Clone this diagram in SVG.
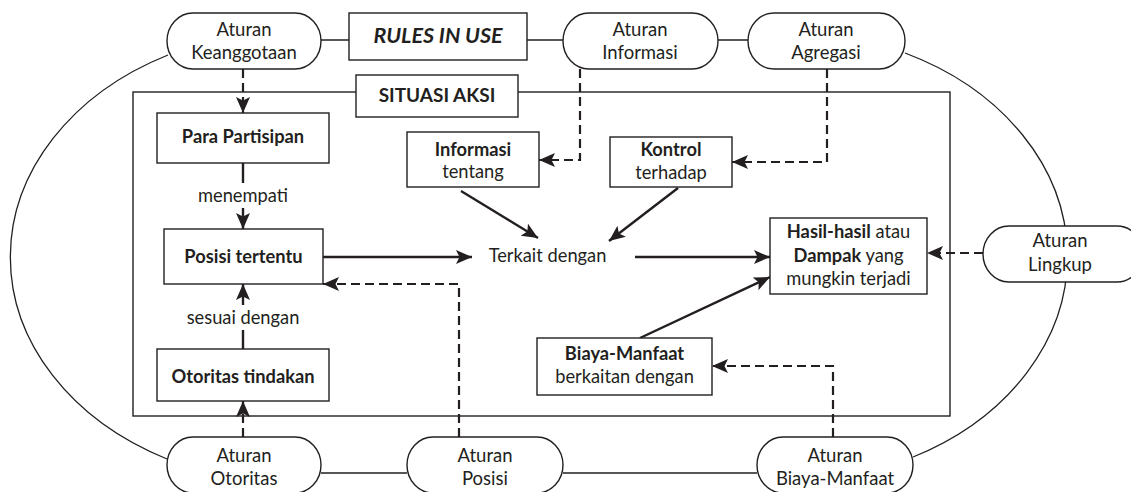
<svg xmlns="http://www.w3.org/2000/svg" width="1131" height="492" viewBox="0 0 1131 492">
<style>
text{font-family:Lato,"Liberation Sans",sans-serif;fill:#231f20}
.pill{fill:#fff;stroke:#231f20;stroke-width:1.4}
.box{fill:#fff;stroke:#231f20;stroke-width:1.4}
.frame{fill:none;stroke:#231f20;stroke-width:1.4}
.thin{fill:none;stroke:#231f20;stroke-width:1.3}
.solid{fill:none;stroke:#231f20;stroke-width:2.4}
.dash{fill:none;stroke:#231f20;stroke-width:2.2;stroke-dasharray:9 5}
.pt{font-size:18.5px;text-anchor:middle}
.bt{font-size:18.3px;text-anchor:middle}
.b{font-weight:bold}
</style>
<defs>
<marker id="ah" markerUnits="userSpaceOnUse" markerWidth="18" markerHeight="16" refX="16" refY="7" orient="auto" viewBox="0 0 18 16"><path d="M0,0 L16,7 L0,14 L3.5,7 z" fill="#231f20"/></marker>
</defs>
<rect width="1131" height="492" fill="#fff"/>
<g id="outline">
<path class="thin" d="M168,55 A289,227 0 0 0 167,459"/>
<path class="thin" d="M905,53 A283,225 0 0 1 913,457"/>
<path class="thin" d="M321,40 H349 M527,40 H563 M718,40 H748"/>
<path class="thin" d="M321,473 H407 M563,473 H757"/>
<rect class="frame" x="133" y="92" width="817" height="324"/>
</g>
<g id="connectors">
<path class="dash" d="M243,69 V113" marker-end="url(#ah)"/>
<path class="solid" d="M243,163 V183"/>
<path class="solid" d="M243,208 V229" marker-end="url(#ah)"/>
<path class="solid" d="M243,349 V330"/>
<path class="solid" d="M243,305 V284" marker-end="url(#ah)"/>
<path class="dash" d="M243,437 V401" marker-end="url(#ah)"/>
<path class="solid" d="M323,257 H472" marker-end="url(#ah)"/>
<path class="solid" d="M635,257 H770" marker-end="url(#ah)"/>
<path class="solid" d="M461,191 L538,238" marker-end="url(#ah)"/>
<path class="solid" d="M678,188 L609,241" marker-end="url(#ah)"/>
<path class="solid" d="M640,338 L770,277" marker-end="url(#ah)"/>
<path class="dash" d="M580,69 V160 H539" marker-end="url(#ah)"/>
<path class="dash" d="M827,69 V162 H732" marker-end="url(#ah)"/>
<path class="dash" d="M983,253 H927" marker-end="url(#ah)"/>
<path class="dash" d="M459,437 V284 H323" marker-end="url(#ah)"/>
<path class="dash" d="M833,437 V366 H712" marker-end="url(#ah)"/>
</g>
<g id="rules-in-use">
<rect class="box" x="349" y="13" width="178" height="47"/>
<text x="438" y="43" style="font-size:21.5px;font-weight:bold;font-style:italic;text-anchor:middle">RULES IN USE</text>
</g>
<g id="situasi-aksi">
<rect class="box" x="356" y="75" width="162" height="42"/>
<text x="437" y="102" class="b" style="font-size:19px;text-anchor:middle">SITUASI AKSI</text>
</g>
<g id="aturan-keanggotaan">
<rect class="pill" x="167" y="13" width="154" height="56" rx="26" ry="28"/>
<text class="pt" x="244" y="36">Aturan</text><text class="pt" x="244" y="59">Keanggotaan</text>
</g>
<g id="aturan-informasi">
<rect class="pill" x="563" y="13" width="155" height="56" rx="26" ry="28"/>
<text class="pt" x="640" y="36">Aturan</text><text class="pt" x="640" y="59">Informasi</text>
</g>
<g id="aturan-agregasi">
<rect class="pill" x="748" y="13" width="157" height="56" rx="26" ry="28"/>
<text class="pt" x="826" y="36">Aturan</text><text class="pt" x="826" y="59">Agregasi</text>
</g>
<g id="aturan-lingkup">
<rect class="pill" x="983" y="226" width="160" height="56" rx="26" ry="28"/>
<text class="pt" x="1060" y="247">Aturan</text><text class="pt" x="1060" y="271">Lingkup</text>
</g>
<g id="aturan-otoritas">
<rect class="pill" x="167" y="437" width="154" height="56" rx="26" ry="28"/>
<text class="pt" x="244" y="462">Aturan</text><text class="pt" x="244" y="485">Otoritas</text>
</g>
<g id="aturan-posisi">
<rect class="pill" x="407" y="437" width="156" height="56" rx="26" ry="28"/>
<text class="pt" x="485" y="462">Aturan</text><text class="pt" x="485" y="485">Posisi</text>
</g>
<g id="aturan-biaya-manfaat">
<rect class="pill" x="757" y="437" width="156" height="56" rx="26" ry="28"/>
<text class="pt" x="835" y="462">Aturan</text><text class="pt" x="835" y="485">Biaya-Manfaat</text>
</g>
<g id="para-partisipan">
<rect class="box" x="157" y="113" width="172" height="50"/>
<text class="bt b" x="243" y="143">Para Partisipan</text>
</g>
<g id="label-menempati"><text class="bt" x="243" y="202">menempati</text></g>
<g id="posisi-tertentu">
<rect class="box" x="164" y="229" width="159" height="55"/>
<text class="bt b" x="243.5" y="263">Posisi tertentu</text>
</g>
<g id="label-sesuai"><text class="bt" x="243" y="324">sesuai dengan</text></g>
<g id="otoritas-tindakan">
<rect class="box" x="157" y="349" width="172" height="52"/>
<text class="bt b" x="243" y="383">Otoritas tindakan</text>
</g>
<g id="informasi-tentang">
<rect class="box" x="407" y="132" width="132" height="55"/>
<text class="bt b" x="473" y="156">Informasi</text><text class="bt" x="473" y="178">tentang</text>
</g>
<g id="kontrol-terhadap">
<rect class="box" x="610" y="137" width="122" height="50"/>
<text class="bt b" x="671" y="156">Kontrol</text><text class="bt" x="671" y="179">terhadap</text>
</g>
<g id="terkait-dengan"><text class="bt" x="547.5" y="262">Terkait dengan</text></g>
<g id="hasil">
<rect class="box" x="770" y="218" width="157" height="76"/>
<text class="bt" x="848.5" y="238"><tspan class="b">Hasil-hasil</tspan> atau</text>
<text class="bt" x="848.5" y="262"><tspan class="b">Dampak</tspan> yang</text>
<text class="bt" x="848.5" y="285">mungkin terjadi</text>
</g>
<g id="biaya-manfaat">
<rect class="box" x="537" y="338" width="175" height="57"/>
<text class="bt b" x="624.5" y="360">Biaya-Manfaat</text><text class="bt" x="624.5" y="383">berkaitan dengan</text>
</g>
</svg>
